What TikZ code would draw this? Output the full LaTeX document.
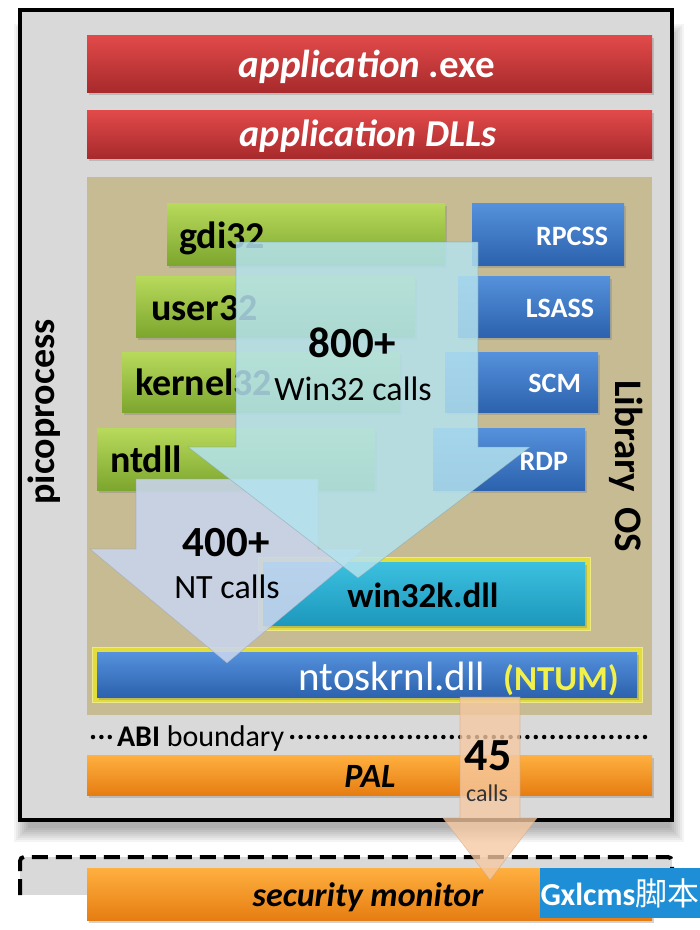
\documentclass[tikz,border=0pt]{standalone}
\usepackage{fontspec}
\setmainfont{Carlito}
\newfontfamily\cjkfont{Noto Sans CJK SC}
\usetikzlibrary{shadows}
\definecolor{picogray}{HTML}{D9D9D9}
\definecolor{tan}{HTML}{C6BB93}
\definecolor{redT}{HTML}{E24A4A}
\definecolor{redB}{HTML}{A82A2C}
\definecolor{grnT}{HTML}{B8DA5C}
\definecolor{grnB}{HTML}{7DA62E}
\definecolor{bluT}{HTML}{5591DC}
\definecolor{bluB}{HTML}{2C62AE}
\definecolor{cyaT}{HTML}{3CC0E0}
\definecolor{cyaB}{HTML}{1C98BC}
\definecolor{orgT}{HTML}{FFB040}
\definecolor{orgB}{HTML}{E67D12}
\definecolor{glow}{HTML}{E2DC3C}
\definecolor{ntum}{HTML}{F2F04A}
\definecolor{arrA}{HTML}{B4E2EE}
\definecolor{arrB}{HTML}{C9D5EE}
\definecolor{arrC}{HTML}{F6C9A2}
\definecolor{wmblue}{HTML}{1E8FD6}
\newcommand\mkbox[6]{\node[#6, anchor=north west, minimum width={#4-#2}, minimum height={#5-#3}, inner sep=0pt, outer sep=0pt] (#1) at (#2,#3) {};}
\newcommand\fs[1]{\fontsize{#1}{#1}\selectfont}
\begin{document}
\begin{tikzpicture}[x=1pt,y=-1pt,
  bevel/.style={draw=none, drop shadow={opacity=0.35, shadow xshift=2pt, shadow yshift=-3pt}},
  redbar/.style={bevel, top color=redT, bottom color=redB},
  grnbar/.style={bevel, top color=grnT, bottom color=grnB},
  blubar/.style={bevel, top color=bluT, bottom color=bluB},
  cyabar/.style={bevel, top color=cyaT, bottom color=cyaB},
  orgbar/.style={bevel, top color=orgT, bottom color=orgB},
  glowbox/.style={fill=glow, draw=glow!60!white, line width=1pt},
  lbl/.style={inner sep=0pt, outer sep=0pt, anchor=base},
  grnlbl/.style={lbl, anchor=base west, font=\bfseries\fs{38}},
  blulbl/.style={lbl, anchor=base east, text=white, font=\bfseries\fs{28}},
  bigarrow/.style={line width=0.6pt, line join=miter},
  abidots/.style={line width=4.5pt, line cap=round, dash pattern=on 0pt off 8.4pt}
]
\useasboundingbox (0,0) rectangle (700,930);
\fill[white] (0,0) rectangle (700,930);

% soft shadow of the picoprocess box
\foreach \i in {0,2,...,14}
  \fill[black, opacity=0.045] (14+\i,24+\i) rectangle (684-\i,842-\i);

% picoprocess container
\mkbox{pico}{20}{10}{672}{820}{fill=picogray, draw=black, line width=4pt}

% application bars
\mkbox{appexe}{87}{35}{652}{92}{redbar}
\mkbox{appdll}{87}{110}{652}{158}{redbar}
\node[lbl, text=white, font=\bfseries\fs{39}] (appexet) at (367,77) {\itshape application\upshape\ .exe};
\node[lbl, text=white, font=\bfseries\itshape\fs{38}] (appdllt) at (368,146) {application DLLs};

% Library OS
\mkbox{libos}{87}{177}{652}{715}{fill=tan}

\mkbox{gdi}{167}{203}{445}{265}{grnbar}
\mkbox{user}{136}{276}{415}{337}{grnbar}
\mkbox{kern}{122}{352}{400}{412}{grnbar}
\mkbox{ntdll}{97}{428}{375}{490}{grnbar}
\node[grnlbl] (gdit) at (179,248) {gdi32};
\node[grnlbl] (usert) at (151,320) {user32};
\node[grnlbl] (kernt) at (135,395) {kernel32};
\node[grnlbl] (ntdllt) at (110,472) {ntdll};

\mkbox{rpcss}{472}{203}{624}{265}{blubar}
\mkbox{lsass}{458}{276}{610}{337}{blubar}
\mkbox{scm}{445}{352}{598}{412}{blubar}
\mkbox{rdp}{433}{428}{585}{490}{blubar}
\node[blulbl] (rpcsst) at (608,245) {RPCSS};
\node[blulbl] (lsasst) at (594,317) {LSASS};
\node[blulbl] (scmt) at (581,392) {SCM};
\node[blulbl] (rdpt) at (568,470) {RDP};

\node[inner sep=0pt, rotate=-90, font=\bfseries\fs{39}] (libost) at (626,466) {Library\ \,OS};

\mkbox{w32glow}{258}{557}{590}{630}{glowbox}
\mkbox{w32k}{263}{562}{585}{625}{cyabar}
\node[lbl, font=\bfseries\fs{35}] (w32kt) at (423,607) {win32k.dll};

\mkbox{ntglow}{92}{647}{642}{702}{glowbox}
\mkbox{ntos}{97}{652}{637}{697}{blubar}
\node[lbl, text=white, font=\fs{41}] (ntost) at (392,690) {ntoskrnl.dll};
\node[lbl, text=ntum, font=\bfseries\fs{35}] (ntumt) at (561,690) {(NTUM)};

% 400+ arrow
\filldraw[bigarrow, fill=arrB, draw=arrB!75!black, fill opacity=0.88, draw opacity=0.5]
  (136,479) -- (318,479) -- (318,549) -- (364,549) -- (227,663) -- (90,549) -- (136,549) -- cycle;
% 800+ arrow
\filldraw[bigarrow, fill=arrA, draw=arrA!70!black, fill opacity=0.85, draw opacity=0.5]
  (236,242) -- (478,242) -- (478,447) -- (530,447) -- (358,578) -- (188,447) -- (236,447) -- cycle;

\node[lbl, font=\bfseries\fs{43}] (n800) at (352,357) {800+};
\node[lbl, font=\fs{34}] (w32c) at (353,400) {Win32 calls};
\node[lbl, font=\bfseries\fs{43}] (n400) at (226,556) {400+};
\node[lbl, font=\fs{34}] (ntc) at (227,598) {NT calls};

\node[inner sep=0pt, rotate=90, font=\bfseries\fs{38}] (picolbl) at (44,412) {picoprocess};

% ABI boundary
\node[lbl, anchor=base west, font=\fs{30}] (abit) at (117,746) {\textbf{ABI} boundary};
\coordinate (abiL) at (93,737);
\coordinate (abiR) at (652,737);
\draw[abidots] (abiL) -- ([xshift=-6pt]abit.west |- abiL);
\draw[abidots] ([xshift=8pt]abit.east |- abiL) -- (abiR);

% PAL
\mkbox{pal}{87}{755}{652}{795}{orgbar}
\node[lbl, font=\bfseries\itshape\fs{34}] (palt) at (370,787) {PAL};

% security monitor area
\fill[picogray] (20,857) rectangle (672,895);
\draw[line width=4pt, dash pattern=on 16pt off 8pt, rounded corners=4pt] (20,895) -- (20,857) -- (672,857) -- (672,895);
\mkbox{sec}{87}{868}{652}{920}{orgbar}
\node[lbl, font=\bfseries\itshape\fs{34}] (sect) at (368,906) {security monitor};

% 45 calls arrow
\filldraw[bigarrow, fill=arrC, draw=arrC!80!black, fill opacity=0.78, draw opacity=0.5]
  (460,697) -- (520,697) -- (520,818) -- (537,818) -- (490,880) -- (443,818) -- (460,818) -- cycle;
\node[lbl, font=\bfseries\fs{46}] (n45) at (488,770) {45};
\node[lbl, font=\fs{24}, text=black!80] (c45) at (487,801) {calls};

% watermark
\mkbox{wm}{540}{868}{700}{918}{fill=wmblue}
\node[inner sep=0pt, text=white, font=\bfseries\fs{32}] (wmt) at (wm.center) {Gxlcms{\cjkfont\mdseries 脚本}};
\end{tikzpicture}
\end{document}
